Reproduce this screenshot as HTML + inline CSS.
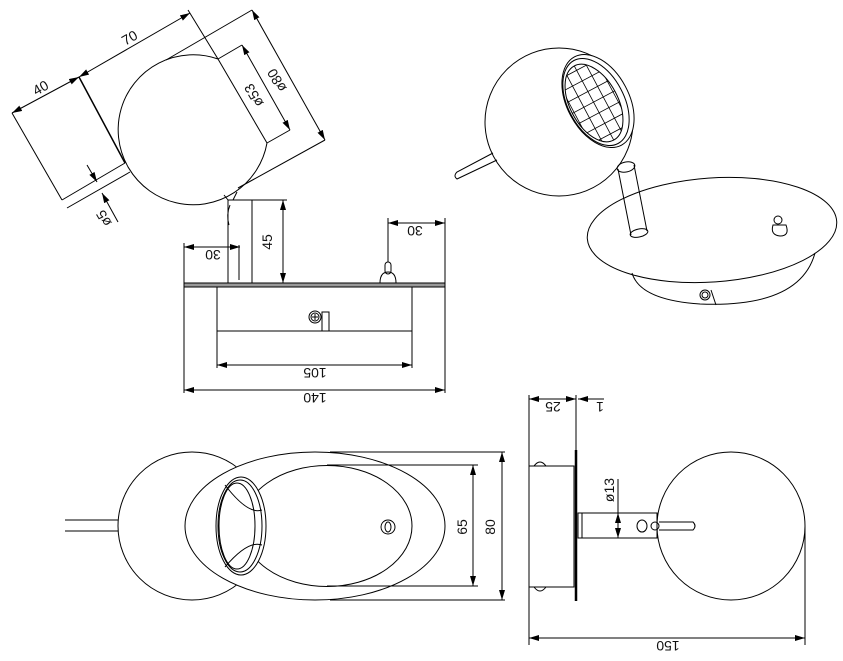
<!DOCTYPE html>
<html><head><meta charset="utf-8"><style>
html,body{margin:0;padding:0;background:#fff;}
svg{display:block;}
text{font-family:"Liberation Sans",sans-serif;font-size:14px;fill:#111;}
</style></head><body>
<svg width="843" height="661" viewBox="0 0 843 661" xmlns="http://www.w3.org/2000/svg">
<defs>
<marker id="a" viewBox="0 0 10 6" refX="10" refY="3" markerWidth="10" markerHeight="6" orient="auto-start-reverse" markerUnits="userSpaceOnUse"><path d="M0,0 L10,3 L0,6 z" fill="#000"/></marker>
<clipPath id="lensclip"><ellipse cx="594" cy="103" rx="24" ry="42" transform="rotate(-28 594 103)"/></clipPath>
</defs>
<g fill="none" stroke="#000" stroke-width="1">

<path d="M218,59 A75,75 0 1 0 267,143"/>
<line x1="218" y1="59" x2="267" y2="143"/>
<line x1="125" y1="163" x2="62" y2="200"/>
<line x1="130" y1="172" x2="67" y2="208"/>
<line x1="79" y1="77" x2="125" y2="163" stroke-width="1.5"/>
<line x1="12" y1="113" x2="62" y2="200"/>
<line x1="188" y1="10" x2="218" y2="59"/>
<line x1="12" y1="113" x2="79" y2="77" marker-start="url(#a)" marker-end="url(#a)"/>
<line x1="79" y1="77" x2="190" y2="13" marker-start="url(#a)" marker-end="url(#a)"/>
<line x1="166" y1="60" x2="252" y2="10"/>
<line x1="238" y1="188" x2="325" y2="140"/>
<line x1="252" y1="10" x2="325" y2="140" marker-start="url(#a)" marker-end="url(#a)"/>
<line x1="218" y1="59" x2="242" y2="45"/>
<line x1="267" y1="143" x2="290" y2="130"/>
<line x1="242" y1="45" x2="290" y2="130" marker-start="url(#a)" marker-end="url(#a)"/>
<line x1="87" y1="165" x2="97" y2="182" marker-end="url(#a)"/>
<line x1="118" y1="222" x2="102" y2="193" marker-end="url(#a)"/>
<rect x="228" y="200" width="24" height="83"/>
<line x1="239" y1="245" x2="239" y2="280"/>
<path d="M228,200 L224,195 M233,200 L237,192 M230,205 Q226,215 229,225"/>
<line x1="252" y1="200" x2="287" y2="200"/>
<line x1="283" y1="200" x2="283" y2="283" marker-start="url(#a)" marker-end="url(#a)"/>
<line x1="184" y1="243" x2="184" y2="393"/>
<line x1="184" y1="247" x2="240" y2="247" marker-start="url(#a)" marker-end="url(#a)"/>
<rect x="184" y="283" width="261" height="4" fill="#999"/>
<rect x="217" y="287" width="195" height="44"/>
<circle cx="315" cy="317" r="6"/>
<circle cx="315" cy="317" r="4"/>
<path d="M312,317 h6 M315,314 v6"/>
<rect x="322" y="312" width="7" height="19"/>
<path d="M380,283 Q380,272 388,272 Q396,272 396,283"/>
<rect x="385" y="262" width="6" height="12" rx="3"/>
<line x1="388" y1="218" x2="388" y2="262"/>
<line x1="445" y1="218" x2="445" y2="393"/>
<line x1="388" y1="223" x2="445" y2="223" marker-start="url(#a)" marker-end="url(#a)"/>
<line x1="217" y1="331" x2="217" y2="368"/>
<line x1="412" y1="331" x2="412" y2="368"/>
<line x1="217" y1="365" x2="412" y2="365" marker-start="url(#a)" marker-end="url(#a)"/>
<line x1="184" y1="390" x2="445" y2="390" marker-start="url(#a)" marker-end="url(#a)"/>

<circle cx="559" cy="122" r="74"/>
<ellipse cx="598" cy="101" rx="31" ry="50" transform="rotate(-28 598 101)" fill="#fff"/>
<ellipse cx="596" cy="102" rx="28" ry="47" transform="rotate(-28 596 102)"/>
<ellipse cx="594" cy="103" rx="24" ry="42" transform="rotate(-28 594 103)"/>
<g clip-path="url(#lensclip)">
<g transform="rotate(-28 594 103)" stroke-width="0.8">
<path d="M572,55 V150 M583,55 V150 M594,55 V150 M605,55 V150 M616,55 V150"/>
<path d="M560,66 H630 M560,78 H630 M560,90 H630 M560,102 H630 M560,114 H630 M560,126 H630 M560,138 H630"/>
</g>
</g>
<path d="M493,153 L457,172 Q453,176 457,179 L497,160"/>
<path d="M618,169 L631,235 M634,165 L647,231"/>
<ellipse cx="626" cy="167" rx="9" ry="5" transform="rotate(-12 626 167)"/>
<ellipse cx="639" cy="233" rx="9" ry="4" transform="rotate(-12 639 233)"/>
<ellipse cx="712" cy="230" rx="125" ry="52" transform="rotate(-4 712 230)"/>
<path d="M632,273 Q640,300 700,304 Q800,308 815,253"/>
<circle cx="705" cy="295" r="5"/><circle cx="705" cy="295" r="3"/>
<path d="M711,290 L716,305"/>
<circle cx="778" cy="220" r="4"/>
<path d="M773,225 Q770,235 780,236 Q790,236 786,225 Z"/>

<circle cx="192" cy="526" r="74"/>
<line x1="65" y1="520" x2="118" y2="520"/>
<line x1="65" y1="531" x2="118" y2="531"/>
<ellipse cx="315" cy="526" rx="130" ry="74" fill="#fff"/>
<ellipse cx="327" cy="526" rx="85" ry="60.5"/>
<ellipse cx="241" cy="526" rx="25" ry="49" fill="#fff"/>
<ellipse cx="240" cy="526" rx="22" ry="46"/>
<ellipse cx="237" cy="526" rx="18" ry="43"/>
<path d="M225,485 Q248,515 262,510 M225,567 Q248,540 262,545"/>
<circle cx="388" cy="527" r="7"/>
<ellipse cx="388" cy="527" rx="3" ry="5"/>
<line x1="330" y1="452" x2="505" y2="452"/>
<line x1="330" y1="600" x2="505" y2="600"/>
<line x1="327" y1="465" x2="478" y2="465"/>
<line x1="327" y1="586" x2="478" y2="586"/>
<line x1="473" y1="465" x2="473" y2="586" marker-start="url(#a)" marker-end="url(#a)"/>
<line x1="502" y1="452" x2="502" y2="600" marker-start="url(#a)" marker-end="url(#a)"/>

<rect x="529" y="466" width="45" height="121"/>
<line x1="576" y1="395" x2="576" y2="450"/>
<line x1="576" y1="450" x2="576" y2="601" stroke-width="2.5"/>
<path d="M534,466 Q540,458 546,466 M534,587 Q540,595 546,587"/>
<rect x="578" y="513" width="79" height="25"/>
<line x1="582" y1="513" x2="582" y2="538"/>
<ellipse cx="642" cy="526" rx="5" ry="6"/>
<circle cx="655" cy="526" r="4"/>
<path d="M659,522 H693 Q697,526 693,530 H659"/>
<circle cx="731" cy="526" r="74"/>
<line x1="618" y1="479" x2="618" y2="513"/>
<line x1="618" y1="513" x2="618" y2="538" marker-start="url(#a)" marker-end="url(#a)"/>
<line x1="529" y1="395" x2="529" y2="645"/>
<line x1="805" y1="526" x2="805" y2="645"/>
<line x1="529" y1="399" x2="576" y2="399" marker-start="url(#a)" marker-end="url(#a)"/>
<line x1="578" y1="399" x2="604" y2="399" marker-start="url(#a)"/>
<line x1="529" y1="638" x2="805" y2="638" marker-start="url(#a)" marker-end="url(#a)"/>
</g>

<g stroke="none">
<text transform="translate(43,92) rotate(-30)" text-anchor="middle">40</text>
<text transform="translate(132,42) rotate(-30)" text-anchor="middle">70</text>
<text transform="translate(281,78) rotate(-120)" text-anchor="middle">ø80</text>
<text transform="translate(258,93) rotate(-120)" text-anchor="middle">ø53</text>
<text transform="translate(108,216) rotate(-120)" text-anchor="middle">ø5</text>
<text transform="translate(272,242) rotate(-90)" text-anchor="middle">45</text>
<text transform="translate(213,250) rotate(180)" text-anchor="middle">30</text>
<text transform="translate(415,226) rotate(180)" text-anchor="middle">30</text>
<text transform="translate(315,368) rotate(180)" text-anchor="middle">105</text>
<text transform="translate(315,393) rotate(180)" text-anchor="middle">140</text>
<text transform="translate(467,527) rotate(-90)" text-anchor="middle">65</text>
<text transform="translate(495,527) rotate(-90)" text-anchor="middle">80</text>
<text transform="translate(553,402) rotate(180)" text-anchor="middle">25</text>
<text transform="translate(600,402) rotate(180)" text-anchor="middle">1</text>
<text transform="translate(614,490) rotate(-90)" text-anchor="middle">ø13</text>
<text transform="translate(668,641) rotate(180)" text-anchor="middle">150</text>
</g>
</svg>
</body></html>
